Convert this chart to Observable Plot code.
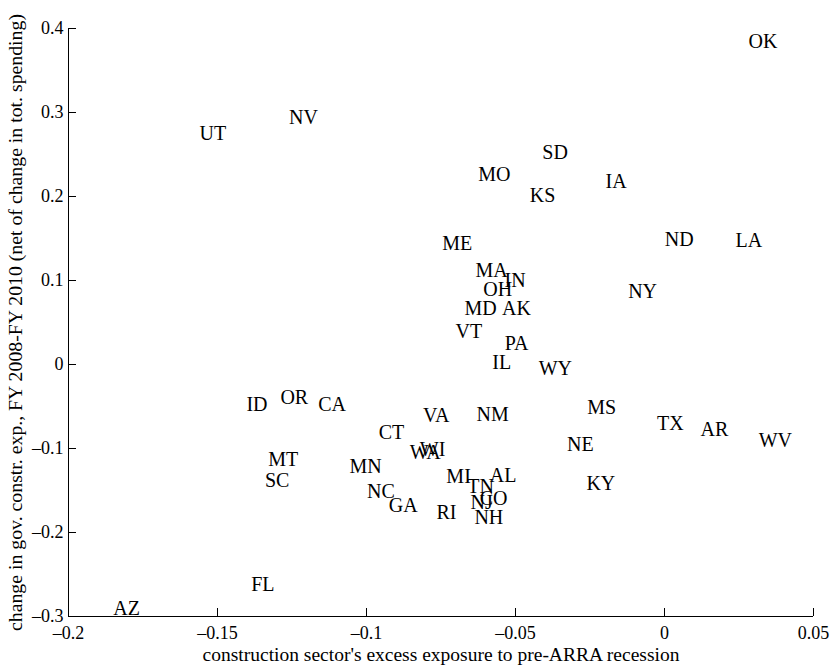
<!DOCTYPE html>
<html><head><meta charset="utf-8">
<script src="https://cdn.jsdelivr.net/npm/d3@7"></script>
<script src="https://cdn.jsdelivr.net/npm/@observablehq/plot@0.6"></script>
<style>html,body{margin:0;padding:0;background:#fff}#chart svg{display:block}</style>
</head><body><div id="chart"></div>
<script>
const states = ["OK","UT","NV","SD","MO","IA","KS","ND","LA","ME","MA","IN","OH","NY","MD","AK","VT","PA","IL","WY","ID","OR","CA","MS","VA","NM","TX","AR","CT","WV","NE","WI","WA","MT","MN","MI","AL","SC","KY","TN","NC","CO","NJ","GA","RI","NH","FL","AZ"];
const exposure = [0.0282,-0.156,-0.126,-0.041,-0.0625,-0.0198,-0.0452,0.0001,0.0238,-0.0746,-0.0634,-0.0537,-0.0608,-0.0122,-0.0671,-0.0545,-0.0701,-0.0536,-0.0578,-0.0422,-0.1403,-0.1289,-0.1162,-0.0259,-0.081,-0.0631,-0.0025,0.0121,-0.0959,0.0316,-0.0327,-0.0821,-0.0855,-0.133,-0.1057,-0.0732,-0.0586,-0.1341,-0.0262,-0.0662,-0.0998,-0.062,-0.0651,-0.0925,-0.0765,-0.0638,-0.1387,-0.185];
const change = [0.3845,0.275,0.2935,0.252,0.226,0.2175,0.2014,0.1492,0.1473,0.144,0.1121,0.1004,0.0895,0.0867,0.0669,0.0669,0.0395,0.0246,0.0021,-0.0045,-0.0479,-0.0395,-0.0474,-0.0514,-0.0611,-0.0598,-0.0706,-0.077,-0.0815,-0.0901,-0.0958,-0.1014,-0.1054,-0.1129,-0.1217,-0.1337,-0.1327,-0.1381,-0.1417,-0.1456,-0.1515,-0.1593,-0.1645,-0.1676,-0.1764,-0.1818,-0.2615,-0.2908];
const xTicks = [-0.2,-0.15,-0.1,-0.05,0,0.05];
const xTickLabels = ["\u20130.2","\u20130.15","\u20130.1","\u20130.05","0","0.05"];
const yTicks = [-0.3,-0.2,-0.1,0,0.1,0.2,0.3,0.4];
const yTickLabels = ["\u20130.3","\u20130.2","\u20130.1","0","0.1","0.2","0.3","0.4"];
const xLabel = "construction sector's excess exposure to pre-ARRA recession";
const yLabel = "change in gov. constr. exp., FY 2008-FY 2010 (net of change in tot. spending)";

const rows = states.map((s, i) => ({state: s, x: exposure[i], y: change[i]}));
const font = "'Liberation Serif', 'Times New Roman', serif";

const chart = Plot.plot({
  width: 831,
  height: 665,
  marginLeft: 68,
  marginRight: 18,
  marginTop: 28,
  marginBottom: 49,
  style: {fontFamily: font, background: "#fff", color: "#000"},
  x: {domain: [-0.2, 0.05], axis: null},
  y: {domain: [-0.3, 0.4], axis: null},
  marks: [
    Plot.ruleY([yTicks[0]], {stroke: "#000", strokeWidth: 1}),
    Plot.ruleX([xTicks[0]], {stroke: "#000", strokeWidth: 1}),
    Plot.ruleX(xTicks, {x: d => d, y1: yTicks[0], y2: yTicks[0], insetTop: -8, stroke: "#000"}),
    Plot.ruleY(yTicks, {y: d => d, x1: xTicks[0], x2: xTicks[0], insetRight: -8, stroke: "#000"}),
    Plot.axisX({ticks: xTicks, tickSize: 0, tickPadding: 10, tickFormat: d => xTickLabels[xTicks.indexOf(d)], fontSize: 18, fontFamily: font, fill: "#000", label: null}),
    Plot.axisY({ticks: yTicks, tickSize: 0, tickPadding: 5, tickFormat: d => yTickLabels[yTicks.indexOf(d)], fontSize: 18, fontFamily: font, fill: "#000", label: null}),
    Plot.text([xLabel], {frameAnchor: "bottom", textAnchor: "middle", dx: 0, dy: 38, text: d => d, fontSize: 19.5, fontFamily: font, fill: "#000", lineAnchor: "middle"}),
    Plot.text([yLabel], {frameAnchor: "left", textAnchor: "middle", dx: -53, dy: 0, rotate: -90, text: d => d, fontSize: 19.8, fontFamily: font, fill: "#000", lineAnchor: "middle"}),
    Plot.text(rows, {x: "x", y: "y", text: "state", textAnchor: "start", lineAnchor: "middle", fontSize: 20, fontFamily: font, fill: "#000"})
  ]
});
document.getElementById("chart").append(chart);
</script>
</body></html>
